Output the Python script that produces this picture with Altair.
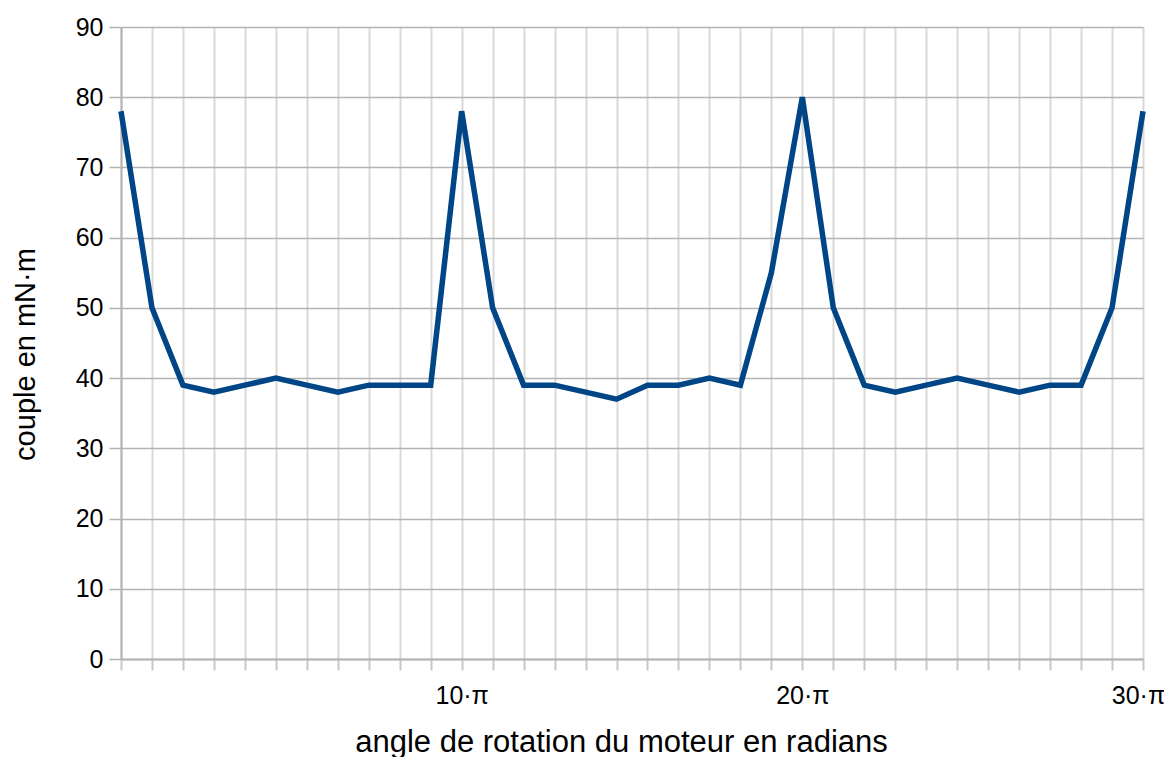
import altair as alt
import pandas as pd

# category labels (index positions along the x axis)
angle_labels = [""] * 34
angle_labels[11] = "10·π"
angle_labels[22] = "20·π"
angle_labels[33] = "30·π"

couple = [78, 50, 39, 38, 39, 40, 39, 38, 39, 39, 39,
          78, 50, 39, 39, 38, 37, 39, 39, 40, 39,
          55, 80, 50, 39, 38, 39, 40, 39, 38, 39, 39, 50, 78]

df = pd.DataFrame({"idx": list(range(len(couple))), "couple": couple})

label_expr = "[" + ",".join('"%s"' % s for s in angle_labels) + "][datum.value]"
last = len(couple) - 1

FONT = "Liberation Sans"

chart = alt.Chart(df).mark_line(color="#004586", strokeWidth=5.5, strokeJoin="miter").encode(
    x=alt.X("idx:Q",
            scale=alt.Scale(domain=[0, last], nice=False, zero=False),
            axis=alt.Axis(values=list(range(len(couple))), labelExpr=label_expr,
                          title="angle de rotation du moteur en radians",
                          grid=True, gridColor="#d9d9d9", gridWidth=2,
                          domain=True, domainColor="#b3b3b3", domainWidth=2,
                          ticks=True, tickColor="#c8c8c8", tickWidth=2, tickSize=11,
                          labelFont=FONT, labelFontSize=25, labelColor="#000000",
                          labelPadding=33, labelBaseline="alphabetic",
                          labelAlign="center", labelOverlap=False, labelFlush=False,
                          labelOffset={"condition": {"test": "datum.value == %d" % last, "value": -5}, "value": 0},
                          titleFont=FONT, titleFontSize=31, titleFontWeight="normal",
                          titleColor="#000000", titleX=500, titleY=92,
                          titleBaseline="alphabetic", titleAnchor="middle")),
    y=alt.Y("couple:Q",
            scale=alt.Scale(domain=[0, 90], nice=False),
            axis=alt.Axis(values=list(range(0, 91, 10)),
                          title="couple en mN·m",
                          grid=True, gridColor="#b3b3b3", gridWidth=1.5,
                          domain=True, domainColor="#b3b3b3", domainWidth=2,
                          ticks=True, tickColor="#b3b3b3", tickWidth=1.5, tickSize=12,
                          labelFont=FONT, labelFontSize=25, labelColor="#000000",
                          labelPadding=6,
                          titleFont=FONT, titleFontSize=29, titleFontWeight="normal",
                          titleColor="#000000", titleAngle=-90, titleX=-96, titleY=327,
                          titleBaseline="middle", titleAnchor="middle")),
).properties(
    width=1022, height=632,
    autosize=alt.AutoSizeParams(type="none"),
    padding={"left": 113, "top": 19, "right": 21, "bottom": 98},
).configure_view(stroke=None).configure(background="#ffffff")

chart.save("out.html", embed_options={"renderer": "svg", "actions": False})
